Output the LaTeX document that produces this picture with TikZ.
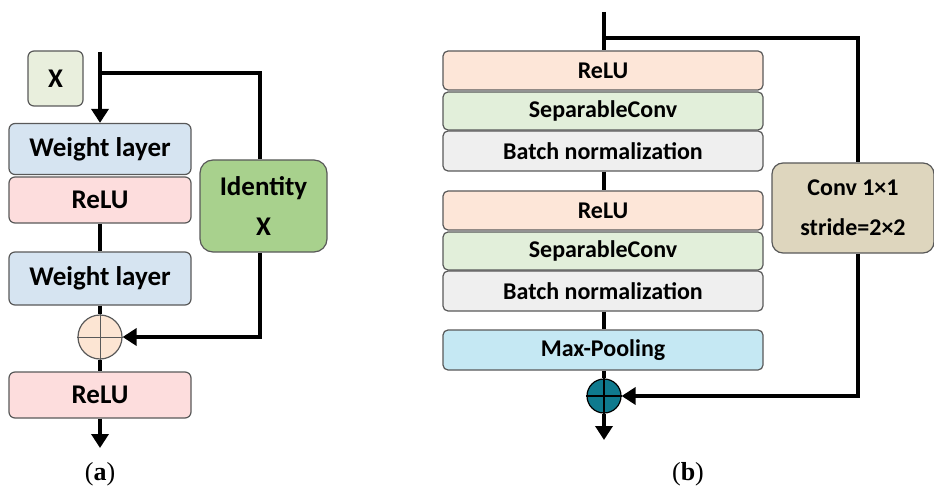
\documentclass[tikz,border=0pt]{standalone}
\usepackage{fontspec}
\setmainfont{Carlito}
\newfontfamily\capfont{Liberation Serif}
\usetikzlibrary{arrows.meta}
\definecolor{xgreen}{HTML}{E9EFDD}
\definecolor{wlblue}{HTML}{D6E4F1}
\definecolor{relupink}{HTML}{FDDDDD}
\definecolor{idgreen}{HTML}{A8D18D}
\definecolor{addpeach}{HTML}{FCE5D3}
\definecolor{rpeach}{HTML}{FDE6D8}
\definecolor{sgreen}{HTML}{E2EFDA}
\definecolor{bngray}{HTML}{EFEFEF}
\definecolor{mpblue}{HTML}{C5E8F3}
\definecolor{convtan}{HTML}{DED6BE}
\definecolor{addteal}{HTML}{0F7A8E}
\definecolor{edgegray}{HTML}{595959}
\tikzset{
  boxa/.style={draw=edgegray, line width=1.2pt, rounded corners=6pt, minimum width=182pt, minimum height=51pt, font=\fontsize{27}{30}\selectfont\bfseries, inner sep=0pt},
  boxb/.style={draw=edgegray, line width=1.2pt, rounded corners=5pt, minimum width=320pt, minimum height=39pt, font=\fontsize{24}{27}\selectfont\bfseries, inner sep=0pt},
  wire/.style={line width=3.6pt, black},
  warr/.style={wire, -{Triangle[width=17pt,length=14pt]}},
  captext/.style={font=\fontsize{26}{30}\capfont}
}
\begin{document}
\begin{tikzpicture}[x=1pt,y=-1pt]
\useasboundingbox (0,0) rectangle (934,489);
% ---------- (a) ----------
\node[draw=edgegray, line width=1.2pt, rounded corners=6pt, fill=xgreen, minimum width=55pt, minimum height=55pt, font=\fontsize{27}{30}\selectfont\bfseries, inner sep=0pt] (x) at (55.5,78.5) {X};
\coordinate (atop) at (100,52);
\coordinate (abr) at (100,73);
\coordinate (acorn) at (260,73);
\node[boxa, fill=wlblue] (w1) at (100,149) {Weight layer};
\node[boxa, fill=relupink, minimum height=46pt] (r1) at (100,200) {ReLU};
\node[boxa, fill=wlblue, minimum height=53pt] (w2) at (100,278.5) {Weight layer};
\node[draw=edgegray, line width=1.2pt, rounded corners=13pt, fill=idgreen, minimum width=127pt, minimum height=92pt, inner sep=0pt, align=center, font=\fontsize{27}{40}\selectfont\bfseries] (id) at (263.5,206) {Identity\\X};
\node[circle, draw=edgegray, line width=1.2pt, fill=addpeach, minimum size=44pt, inner sep=0pt] (add1) at (100,337) {};
\draw[edgegray, line width=1pt] (add1.north) -- (add1.south) (add1.west) -- (add1.east);
\node[boxa, fill=relupink, minimum height=46pt] (r2) at (100,395) {ReLU};
\coordinate (aend) at (100,448);
\coordinate (aret) at (260,337);
\draw[warr] (atop) -- (w1.north);
\draw[wire] (abr) -- (acorn) -- (id.north -| acorn);
\draw[wire] (r1.south) -- (w2.north);
\draw[wire] (w2.south) -- (add1.north);
\draw[wire] (add1.south) -- (r2.north);
\draw[warr] (r2.south) -- (aend);
\draw[wire] (id.south -| aret) -- (aret) -- ++(-4,0);
\draw[warr] (aret) -- (add1.east);
\node[captext] (capa) at (100,474) {(\textbf{a})};
% ---------- (b) ----------
\coordinate (btop) at (604,12);
\coordinate (bbr) at (604,38);
\coordinate (bcorn) at (858,38);
\node[boxb, fill=rpeach] (br1) at (603,70.5) {ReLU};
\node[boxb, fill=sgreen, minimum height=38pt] (bs1) at (603,111) {SeparableConv};
\node[boxb, fill=bngray, minimum height=40pt] (bn1) at (603,151) {Batch normalization};
\node[boxb, fill=rpeach] (br2) at (603,210.5) {ReLU};
\node[boxb, fill=sgreen, minimum height=38pt] (bs2) at (603,251) {SeparableConv};
\node[boxb, fill=bngray, minimum height=40pt] (bn2) at (603,291) {Batch normalization};
\node[boxb, fill=mpblue, minimum height=40pt] (mp) at (603,350) {Max-Pooling};
\node[draw=edgegray, line width=1.2pt, rounded corners=11pt, fill=convtan, minimum width=162pt, minimum height=90pt, inner sep=0pt, align=center, font=\fontsize{24}{40}\selectfont\bfseries] (conv) at (853,208) {Conv 1×1\\stride=2×2};
\node[circle, draw=black, line width=1.2pt, fill=addteal, minimum size=34pt, inner sep=0pt] (add2) at (604,396) {};
\draw[black, line width=1.2pt] (add2.north) -- (add2.south) (add2.west) -- (add2.east);
\coordinate (bend) at (604,440);
\coordinate (bret) at (858,396);
\draw[wire] (btop) -- (br1.north -| btop);
\draw[wire] (bbr) -- (bcorn) -- (conv.north -| bcorn);
\draw[wire] (bn1.south -| btop) -- (br2.north -| btop);
\draw[wire] (bn2.south -| btop) -- (mp.north -| btop);
\draw[wire] (mp.south -| btop) -- (add2.north);
\draw[warr] (add2.south) -- (bend);
\draw[wire] (conv.south -| bret) -- (bret) -- ++(-4,0);
\draw[warr] (bret) -- (add2.east);
\node[captext] (capb) at (688,474) {(\textbf{b})};
\end{tikzpicture}
\end{document}
